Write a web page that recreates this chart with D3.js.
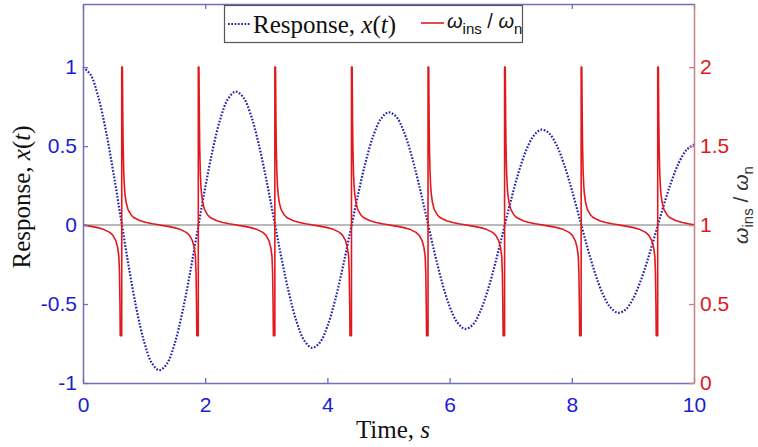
<!DOCTYPE html>
<html>
<head>
<meta charset="utf-8">
<script src="https://cdn.jsdelivr.net/npm/d3@7"></script>
<style>
  html, body { margin: 0; padding: 0; background: #fff; }
  svg { display: block; }
</style>
</head>
<body>
<svg id="chart" width="758" height="447"></svg>
<script>
// ---- data ----
const timeStep = 0.125; // response sampled every 0.125 s from t = 0 to 10
const responseValues = [
  1.000, 0.951, 0.812, 0.596, 0.326, 0.029, -0.265, -0.530, -0.738, -0.872,
  -0.919, -0.877, -0.751, -0.554, -0.307, -0.034, 0.238, 0.481, 0.675, 0.800,
  0.845, 0.808, 0.694, 0.514, 0.288, 0.038, -0.212, -0.437, -0.617, -0.733,
  -0.777, -0.745, -0.641, -0.478, -0.270, -0.040, 0.190, 0.398, 0.564, 0.672,
  0.714, 0.687, 0.593, 0.444, 0.254, 0.043, -0.169, -0.361, -0.515, -0.616,
  -0.657, -0.633, -0.548, -0.412, -0.238, -0.044, 0.151, 0.328, 0.471, 0.565,
  0.604, 0.583, 0.507, 0.382, 0.223, 0.045, -0.134, -0.298, -0.430, -0.518,
  -0.555, -0.537, -0.468, -0.355, -0.209, -0.046, 0.120, 0.270, 0.393, 0.475,
  0.510
];
// zero crossings of the response, where the frequency ratio spikes (s)
const crossingTimes = [0.637, 1.890, 3.143, 4.397, 5.650, 6.903, 8.156, 9.409];
// shape of the ratio curve around each crossing (time offset, ratio)
const spikeOffsets = [-0.6, -0.5, -0.4, -0.3, -0.2, -0.15, -0.1, -0.07, -0.05, -0.04, -0.032, -0.027, -0.003, -0.003, 0.008,
  0.015, 0.02, 0.03, 0.04, 0.05, 0.07, 0.1, 0.15, 0.2, 0.3, 0.4, 0.5, 0.6];
const spikeRatios = [0.998, 0.992, 0.984, 0.973, 0.954, 0.937, 0.902, 0.859, 0.802, 0.70, 0.50, 0.30, 0.30, 2.0, 2.0,
  1.665, 1.499, 1.332, 1.249, 1.198, 1.141, 1.098, 1.064, 1.046, 1.027, 1.016, 1.008, 1.002];
const ratioStart = 1.0, ratioEnd = 1.002;
const xTicks = [0, 2, 4, 6, 8, 10];
const leftTicks = [-1, -0.5, 0, 0.5, 1];
const rightTicks = [0, 0.5, 1, 1.5, 2];

// ---- build series ----
const response = responseValues.map((v, i) => ({ t: i * timeStep, v }));
const ratio = [{ t: 0, v: ratioStart }];
crossingTimes.forEach(c => {
  spikeOffsets.forEach((o, i) => {
    const t = c + o;
    if (t > 0 && t < 10) ratio.push({ t, v: spikeRatios[i] });
  });
});
ratio.push({ t: 10, v: ratioEnd });

// ---- layout ----
const svg = d3.select("#chart");
const L = 83, R = 694, T = 4, B = 383;
const x = d3.scaleLinear().domain([0, 10]).range([L, R]);
const yL = d3.scaleLinear().domain([-1, 1.4]).range([B, T]);
const yR = d3.scaleLinear().domain([0, 2.4]).range([B, T]);

const blueAxis = "#6f6fba", redAxis = "#c98080";
const blueText = "#1c1cd2", redText = "#e01818";
const fmt = d => (d < 0 ? "-" + Math.abs(d) : String(d));

// zero line
svg.append("line")
  .attr("x1", L).attr("x2", R).attr("y1", yL(0)).attr("y2", yL(0))
  .attr("stroke", "#a3a3a3").attr("stroke-width", 1.5);

// response (dotted blue)
svg.append("path").datum(response)
  .attr("fill", "none").attr("stroke", "#2626aa").attr("stroke-width", 2.2)
  .attr("stroke-dasharray", "1.7,1.6")
  .attr("d", d3.line().x(d => x(d.t)).y(d => yL(d.v)).curve(d3.curveCatmullRom));

// frequency ratio (red)
svg.append("path").datum(ratio)
  .attr("fill", "none").attr("stroke", "#e3181e").attr("stroke-width", 1.6)
  .attr("stroke-linejoin", "round")
  .attr("d", d3.line().x(d => x(d.t)).y(d => yR(d.v)));

// axes
function styleAxis(g, lineColor, textColor) {
  g.select(".domain").attr("stroke", lineColor).attr("stroke-width", 1.5);
  g.selectAll(".tick line").attr("stroke", lineColor).attr("stroke-width", 1.3);
  g.selectAll(".tick text").attr("fill", textColor)
    .attr("font-family", "Liberation Sans, Arial, sans-serif").attr("font-size", 21);
}
const gB = svg.append("g").attr("transform", `translate(0,${B})`)
  .call(d3.axisBottom(x).tickValues(xTicks).tickFormat(fmt).tickSizeInner(-5).tickSizeOuter(0).tickPadding(14));
styleAxis(gB, blueAxis, blueText);
const gT = svg.append("g").attr("transform", `translate(0,${T})`)
  .call(d3.axisTop(x).tickValues(xTicks).tickFormat("").tickSizeInner(-5).tickSizeOuter(0));
styleAxis(gT, blueAxis, blueText);
const gL = svg.append("g").attr("transform", `translate(${L},0)`)
  .call(d3.axisLeft(yL).tickValues(leftTicks).tickFormat(fmt).tickSizeInner(-5).tickSizeOuter(0).tickPadding(6));
styleAxis(gL, blueAxis, blueText);
const gR = svg.append("g").attr("transform", `translate(${R},0)`)
  .call(d3.axisRight(yR).tickValues(rightTicks).tickFormat(fmt).tickSizeInner(-5).tickSizeOuter(0).tickPadding(6));
styleAxis(gR, redAxis, redText);

// axis titles
const serif = "Liberation Serif, Times New Roman, serif";
const sans = "Liberation Sans, Arial, sans-serif";
const tx = svg.append("text").attr("x", 393).attr("y", 438).attr("text-anchor", "middle")
  .attr("font-family", serif).attr("font-size", 25).attr("fill", "#111");
tx.append("tspan").text("Time, ");
tx.append("tspan").attr("font-style", "italic").text("s");

const ty = svg.append("text").attr("transform", "translate(30,197) rotate(-90)")
  .attr("text-anchor", "middle").attr("font-family", serif).attr("font-size", 25).attr("fill", "#111");
ty.append("tspan").text("Response, ");
ty.append("tspan").attr("font-style", "italic").text("x");
ty.append("tspan").text("(");
ty.append("tspan").attr("font-style", "italic").text("t");
ty.append("tspan").text(")");

const tr = svg.append("text").attr("transform", "translate(748,205) rotate(-90)")
  .attr("text-anchor", "middle").attr("font-family", sans).attr("font-size", 21).attr("fill", "#333");
tr.append("tspan").attr("font-style", "italic").text("ω");
tr.append("tspan").attr("font-size", 15).attr("dy", 5).text("ins");
tr.append("tspan").attr("dy", -5).text(" / ");
tr.append("tspan").attr("font-style", "italic").text("ω");
tr.append("tspan").attr("font-size", 15).attr("dy", 5).text("n");

// legend
const lg = svg.append("g");
lg.append("rect").attr("x", 224.5).attr("y", 5.5).attr("width", 298).attr("height", 37)
  .attr("fill", "#fff").attr("stroke", "#555").attr("stroke-width", 1.2);
lg.append("line").attr("x1", 228).attr("x2", 251).attr("y1", 24).attr("y2", 24)
  .attr("stroke", "#2626aa").attr("stroke-width", 2.2).attr("stroke-dasharray", "1.7,1.6");
const lt = lg.append("text").attr("x", 253).attr("y", 33)
  .attr("font-family", serif).attr("font-size", 25).attr("fill", "#111");
lt.append("tspan").text("Response, ");
lt.append("tspan").attr("font-style", "italic").text("x");
lt.append("tspan").text("(");
lt.append("tspan").attr("font-style", "italic").text("t");
lt.append("tspan").text(")");
lg.append("line").attr("x1", 421).attr("x2", 444).attr("y1", 23).attr("y2", 23)
  .attr("stroke", "#e3181e").attr("stroke-width", 1.6);
const lt2 = lg.append("text").attr("x", 447).attr("y", 28)
  .attr("font-family", sans).attr("font-size", 20).attr("fill", "#111");
lt2.append("tspan").attr("font-style", "italic").text("ω");
lt2.append("tspan").attr("font-size", 15).attr("dy", 6).text("ins");
lt2.append("tspan").attr("dy", -6).text(" / ");
lt2.append("tspan").attr("font-style", "italic").text("ω");
lt2.append("tspan").attr("font-size", 15).attr("dy", 6).text("n");
</script>
</body>
</html>
